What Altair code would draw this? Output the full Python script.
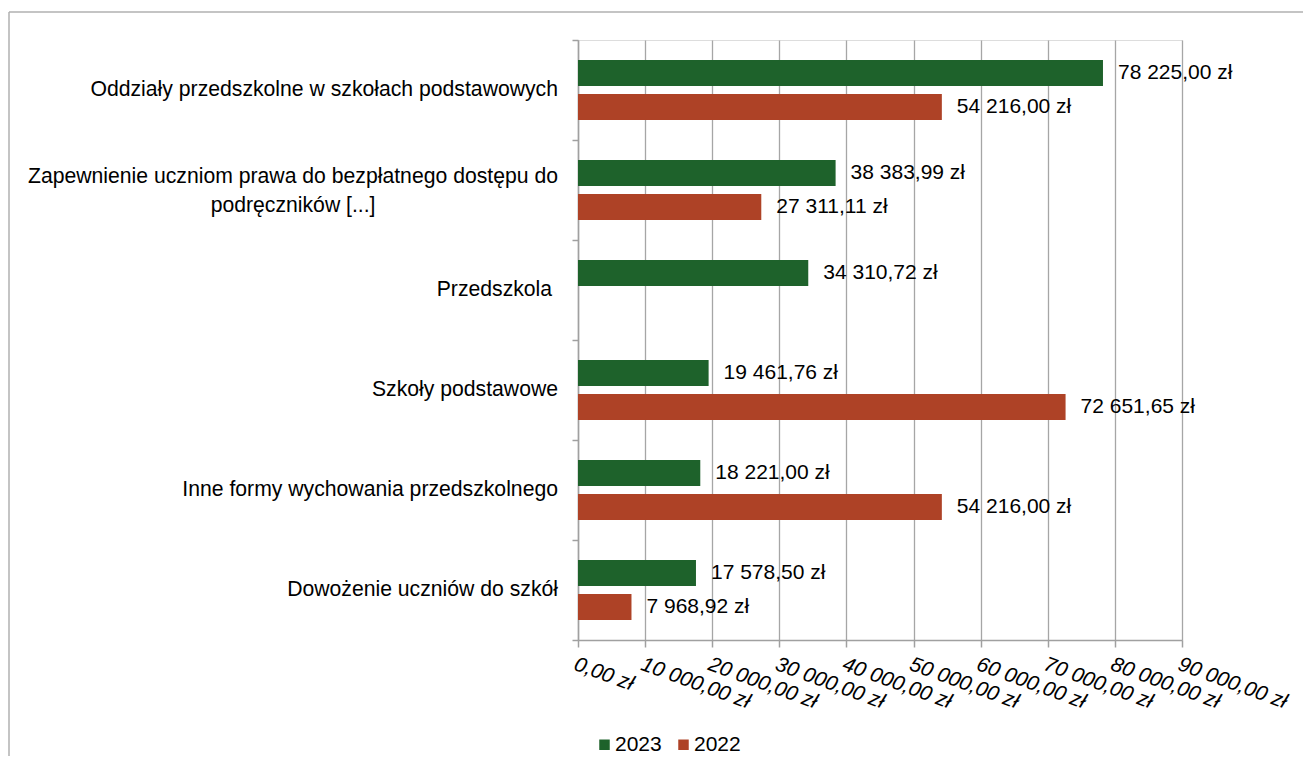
import altair as alt
import pandas as pd

FONT = "Liberation Sans"

categories = [
    "Oddziały przedszkolne w szkołach podstawowych",
    "Zapewnienie uczniom prawa do bezpłatnego dostępu do\npodręczników [...]",
    "Przedszkola",
    "Szkoły podstawowe",
    "Inne formy wychowania przedszkolnego",
    "Dowożenie uczniów do szkół",
]
display_labels = [
    "Oddziały przedszkolne w szkołach podstawowych",
    "Zapewnienie uczniom prawa do bezpłatnego dostępu do\npodręczników [...]" + "\u00a0" * 31 + "\u200b",
    "Przedszkola\u00a0\u200b",
    "Szkoły podstawowe",
    "Inne formy wychowania przedszkolnego",
    "Dowożenie uczniów do szkół",
]
series = ["2023", "2022"]
values_2023 = [78225.00, 38383.99, 34310.72, 19461.76, 18221.00, 17578.50]
values_2022 = [54216.00, 27311.11, None, 72651.65, 54216.00, 7968.92]
x_ticks = [0, 10000, 20000, 30000, 40000, 50000, 60000, 70000, 80000, 90000]

rows = []
for lab, v23, v22 in zip(display_labels, values_2023, values_2022):
    if v23 is not None:
        rows.append({"cat": lab, "year": "2023", "value": v23})
    if v22 is not None:
        rows.append({"cat": lab, "year": "2022", "value": v22})
df = pd.DataFrame(rows)
cat_df = pd.DataFrame({"cat": display_labels})

y_enc = alt.Y(
    "cat:N",
    sort=display_labels,
    title=None,
    scale=alt.Scale(paddingInner=0, paddingOuter=0),
    axis=alt.Axis(
        labels=False,
        tickBand="extent",
        tickSize=6,
        tickColor="#a0a0a0",
        tickWidth=1.5,
        domainColor="#a0a0a0",
        domainWidth=1.5,
        grid=False,
    ),
)
yoff_enc = alt.YOffset(
    "year:N", sort=series, scale=alt.Scale(paddingInner=0.235, paddingOuter=0.588)
)
x_enc = alt.X(
    "value:Q",
    title=None,
    scale=alt.Scale(domain=[0, 90000], nice=False),
    axis=alt.Axis(
        values=x_ticks,
        format="$,.2f",
        labelAngle=20,
        labelAlign="left",
        labelBaseline="top",
        labelFont=FONT,
        labelFontSize=21,
        labelFontStyle="italic",
        labelColor="#000000",
        labelOverlap=False,
        labelFlush=False,
        labelBound=False,
        labelPadding=6,
        tickSize=7,
        tickColor="#a0a0a0",
        tickWidth=1.5,
        domainColor="#a0a0a0",
        domainWidth=1.5,
        grid=True,
        gridColor="#a6a6a6",
        gridWidth=1.3,
    ),
)

bars = alt.Chart(df).mark_bar().encode(
    y=y_enc,
    yOffset=yoff_enc,
    x=x_enc,
    color=alt.Color(
        "year:N",
        sort=series,
        scale=alt.Scale(domain=series, range=["#1e622b", "#ae4226"]),
        legend=alt.Legend(
            orient="none",
            legendX=16,
            legendY=694,
            direction="horizontal",
            title=None,
            symbolType="square",
            symbolSize=110,
            symbolStrokeWidth=0,
            labelFont=FONT,
            labelFontSize=21,
            labelColor="#000000",
            columnPadding=11,
            labelOffset=0,
            padding=0,
        ),
    ),
)

labels = alt.Chart(df).mark_text(
    align="left", baseline="middle", dx=15, font=FONT, fontSize=21, color="#000000"
).encode(
    y=alt.Y("cat:N", sort=display_labels),
    yOffset=alt.YOffset("year:N", sort=series),
    x=alt.X("value:Q"),
    text=alt.Text("value:Q", format="$,.2f"),
)

cat_single = (
    alt.Chart(cat_df)
    .transform_filter("indexof(datum.cat, '\\n') < 0")
    .mark_text(align="right", baseline="middle", font=FONT, fontSize=21.2, color="#000000")
    .encode(y=alt.Y("cat:N", sort=display_labels), x=alt.value(-20), text="cat:N")
)
cat_multi = (
    alt.Chart(cat_df)
    .transform_filter("indexof(datum.cat, '\\n') >= 0")
    .transform_calculate(lines="split(datum.cat, '\\n')")
    .mark_text(
        align="right", baseline="middle", font=FONT, fontSize=21.2, color="#000000",
        lineHeight=29, dy=-13,
    )
    .encode(y=alt.Y("cat:N", sort=display_labels), x=alt.value(-20), text="lines:N")
)

frame_data = alt.Data(values=[{"f": 1}])
frame_left = alt.Chart(frame_data).mark_rule(color="#b0b0b0", strokeWidth=1.5).encode(
    x=alt.value(-569), y=alt.value(-28), y2=alt.value(716)
)
frame_top = alt.Chart(frame_data).mark_rule(color="#b0b0b0", strokeWidth=1.5).encode(
    x=alt.value(-569), x2=alt.value(725), y=alt.value(-28)
)

chart = (
    alt.layer(bars, labels, cat_single, cat_multi, frame_left, frame_top)
    .properties(
        width=604,
        height=600,
        padding={"top": 3, "left": 0, "right": 0, "bottom": 0},
        background="white",
    )
    .configure_view(strokeWidth=0)
    .configure(
        locale={
            "number": {
                "decimal": ",",
                "thousands": "\u00a0",
                "grouping": [3],
                "currency": ["", "\u00a0zł"],
            }
        }
    )
)

chart.save("out.html", embed_options={"renderer": "svg", "actions": False})
